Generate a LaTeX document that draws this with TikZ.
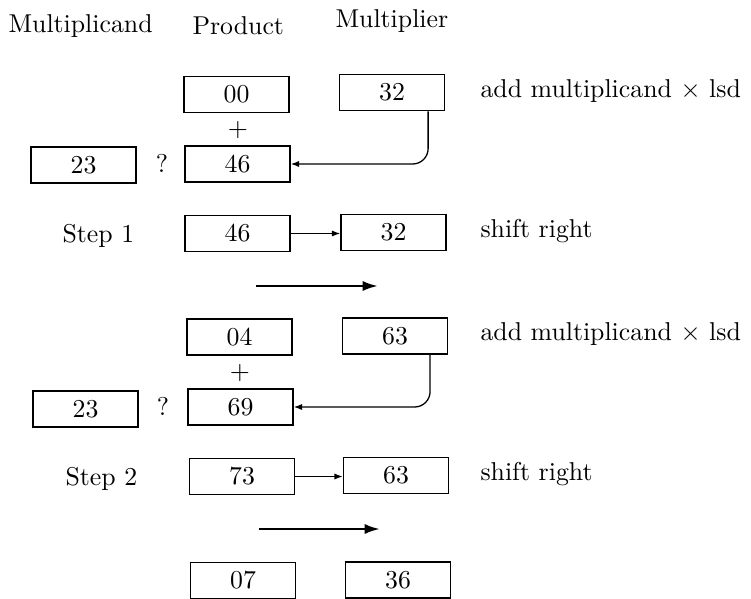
\documentclass[tikz,border=0pt]{standalone}
\usetikzlibrary{arrows.meta}
\begin{document}
\begin{tikzpicture}[x=0.3876pt,y=-0.3876pt,
  reg/.style={draw,line width=0.6pt,minimum width=40.7pt,minimum height=14pt,inner sep=0pt},
  lbl/.style={anchor=base west,inner sep=0pt},
  qlbl/.style={anchor=base,inner sep=0pt},
  link/.style={line width=0.5pt,-{Latex[length=3.2pt,width=2.4pt]}},
  shiftarrow/.style={line width=1pt,-{Latex[length=6pt,width=4pt]}}]
\useasboundingbox (0,0) rectangle (751,598);

% column headings
\node[lbl] (hc) at (8,33) {Multiplicand};
\node[lbl] (hp) at (192,35) {Product};
\node[lbl] (hm) at (335,28) {Multiplier};

% ---- step 1 ----
\node[reg] (p0) at (236.5,94.5) {00};
\node[reg] (m0) at (392,92.5) {32};
\node[lbl] (t0) at (480,97.5) {add multiplicand $\times$ lsd};
\node (plus1) at (238,130) {$+$};
\node[reg] (c1) at (83.5,165) {23};
\node[qlbl] (q1) at (162,172) {?};
\node[reg] (s1) at (237.5,164) {46};
\draw[link,rounded corners=6pt] ([xshift=14pt]m0.south) |- (s1.east);

\node[lbl] (st1) at (62,242) {Step 1};
\node[reg] (p1) at (237.5,233.5) {46};
\node[reg] (m1) at (393.5,232.5) {32};
\node[lbl] (t1) at (480,237) {shift right};
\draw[link] (p1.east) -- (p1.east -| m1.west);

\coordinate (a1s) at (256,286);
\coordinate (a1e) at (378,286);
\draw[shiftarrow] (a1s) -- (a1e);

% ---- step 2 ----
\node[reg] (p2) at (239.5,337) {04};
\node[reg] (m2) at (395,336) {63};
\node[lbl] (t2) at (480,340) {add multiplicand $\times$ lsd};
\node (plus2) at (240,373) {$+$};
\node[reg] (c2) at (85.5,409) {23};
\node[qlbl] (q2) at (163,415) {?};
\node[reg] (s2) at (240.5,407) {69};
\draw[link,rounded corners=6pt] ([xshift=13.6pt]m2.south) |- (s2.east);

\node[lbl] (st2) at (65,485) {Step 2};
\node[reg] (p3) at (242,476.5) {73};
\node[reg] (m3) at (396,475.5) {63};
\node[lbl] (t3) at (480,480) {shift right};
\draw[link] (p3.east) -- (p3.east -| m3.west);

\coordinate (a2s) at (259,529);
\coordinate (a2e) at (380,529);
\draw[shiftarrow] (a2s) -- (a2e);

% ---- result ----
\node[reg] (p4) at (243,580.5) {07};
\node[reg] (m4) at (398,580) {36};
\end{tikzpicture}
\end{document}
